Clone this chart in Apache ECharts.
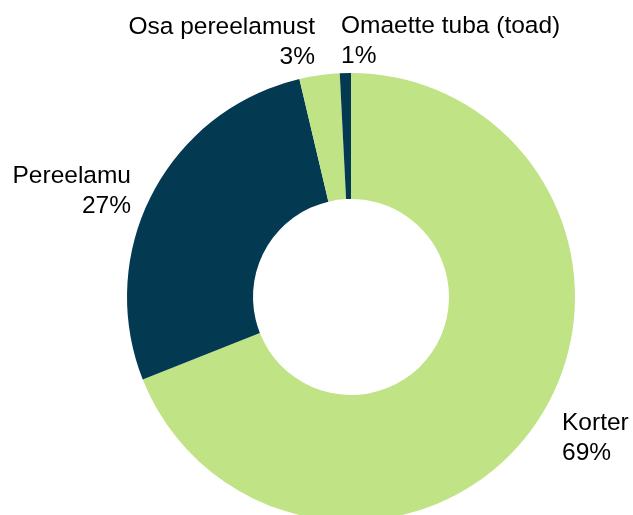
<!DOCTYPE html>
<html>
<head>
<meta charset="utf-8">
<script src="https://cdn.jsdelivr.net/npm/echarts@6/dist/echarts.min.js"></script>
<style>
  html, body { margin: 0; padding: 0; background: #fff; }
  #chart { width: 633px; height: 515px; }
</style>
</head>
<body>
<div id="chart"></div>
<script>
// eluruumi tüübid
var categories = ['Korter', 'Pereelamu', 'Osa pereelamust', 'Omaette tuba (toad)'];
var shares = [69.0, 27.3, 2.9, 0.8];
var colors = ['#c0e386', '#033a52', '#c0e386', '#033a52'];

var chart = echarts.init(document.getElementById('chart'));

// label anchors (text only): [x, y, align]
var labelAnchors = [
  [562, 438, 'left'],
  [131, 191, 'right'],
  [315, 42, 'right'],
  [341, 41, 'left']
];

chart.setOption({
  animation: false,
  textStyle: { fontFamily: 'Liberation Sans, Arial, sans-serif' },
  series: [{
    type: 'pie',
    center: [351, 297],
    radius: [98, 224],
    startAngle: 90,
    clockwise: true,
    avoidLabelOverlap: false,
    label: {
      show: true,
      position: 'outside',
      color: '#000',
      fontSize: 24.5,
      lineHeight: 30,
      fontFamily: 'Liberation Sans, Arial, sans-serif',
      formatter: function (p) {
        return p.name + '\n' + Math.round(p.value) + '%';
      }
    },
    labelLine: { show: false },
    labelLayout: function (p) {
      var a = labelAnchors[p.dataIndex];
      return { x: a[0], y: a[1], align: a[2], verticalAlign: 'middle' };
    },
    emphasis: { disabled: true },
    data: categories.map(function (c, i) {
      return {
        name: c,
        value: shares[i],
        itemStyle: { color: colors[i] },
        label: { align: labelAnchors[i][2] }
      };
    })
  }]
});
</script>
</body>
</html>
